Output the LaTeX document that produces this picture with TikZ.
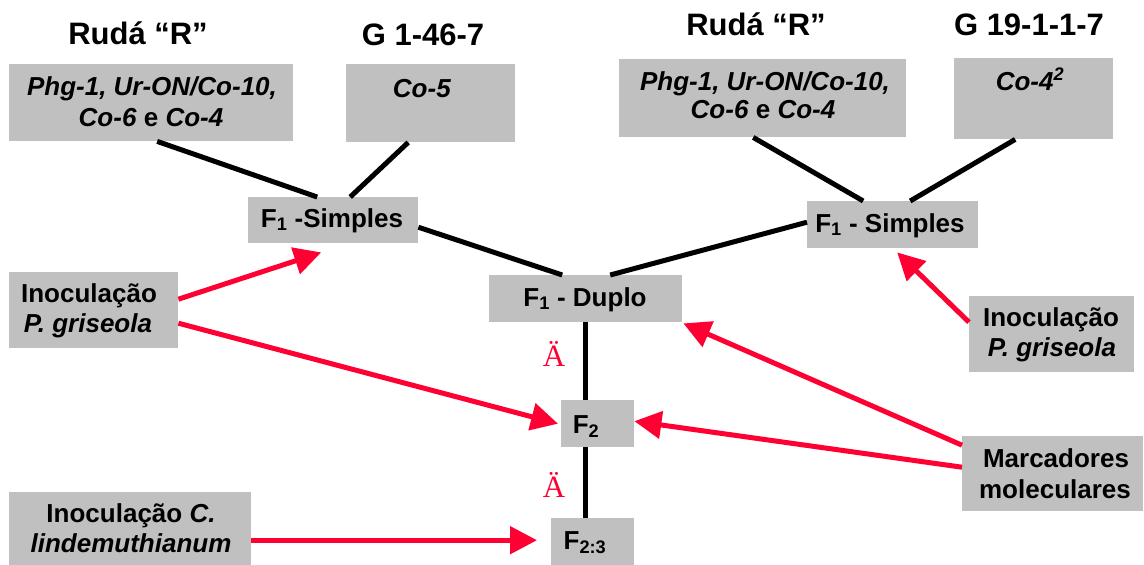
\documentclass[tikz,border=0pt]{standalone}
\usepackage{fontspec}
\setmainfont{Liberation Sans}
\newfontfamily\deltafont{Liberation Serif}
\usetikzlibrary{arrows.meta}
\definecolor{boxgray}{RGB}{192,192,192}
\definecolor{linkred}{RGB}{255,0,51}

\begin{document}
\begin{tikzpicture}[x=1pt,y=-1pt,
  gbox/.style={fill=boxgray, draw=none, inner sep=0pt, anchor=north west},
  lbl/.style={anchor=base, inner sep=0pt, font=\fontsize{26}{31}\selectfont\bfseries},
  ttl/.style={anchor=base, inner sep=0pt, font=\fontsize{31}{37}\selectfont\bfseries},
  tie/.style={line width=5pt, black},
  feed/.style={line width=5pt, linkred, -{Triangle[length=27pt,width=27pt]}},
  delta/.style={anchor=base, inner sep=0pt, text=linkred, font=\fontsize{31}{37}\selectfont\deltafont}]
\useasboundingbox (0,0) rectangle (1144,565);

% grey boxes
\node[gbox, minimum width=284pt, minimum height=77pt] (rudaL) at (9,64) {};
\node[gbox, minimum width=169pt, minimum height=78pt] (g146) at (346,64) {};
\node[gbox, minimum width=287pt, minimum height=78pt] (rudaR) at (619,59) {};
\node[gbox, minimum width=159pt, minimum height=81pt] (g19) at (954,58) {};
\node[gbox, minimum width=170pt, minimum height=46pt] (f1sL) at (248,197) {};
\node[gbox, minimum width=171pt, minimum height=47pt] (f1sR) at (807,201) {};
\node[gbox, minimum width=193pt, minimum height=47pt] (dup) at (489,275) {};
\node[gbox, minimum width=73pt, minimum height=47pt] (f2) at (561,400) {};
\node[gbox, minimum width=83pt, minimum height=47pt] (f23) at (551,518) {};
\node[gbox, minimum width=169pt, minimum height=76pt] (inocL) at (9,272) {};
\node[gbox, minimum width=165pt, minimum height=76pt] (inocR) at (969,296) {};
\node[gbox, minimum width=242pt, minimum height=73pt] (inocC) at (9,492) {};
\node[gbox, minimum width=181pt, minimum height=75pt] (marc) at (962,436) {};

% crossing lines
\draw[tie] ([xshift=6pt]rudaL.south) -- ([xshift=-16pt]f1sL.north);
\draw[tie] ([xshift=-22.5pt]g146.south) -- ([xshift=17pt]f1sL.north);
\draw[tie] ([yshift=-7pt]f1sL.east) -- ([xshift=-23.5pt]dup.north);
\draw[tie] ([yshift=2.5pt]f1sR.west) -- ([xshift=24.5pt]dup.north);
\draw[tie] ([xshift=-9.5pt]rudaR.south) -- ([xshift=-29.5pt]f1sR.north);
\draw[tie] ([xshift=-18.5pt]g19.south) -- ([xshift=17.5pt]f1sR.north);
\draw[tie] (dup.south) -- (dup.south |- f2.north);
\draw[tie] (dup.south |- f2.south) -- (dup.south |- f23.north);

% inoculations and markers
\draw[feed] ([yshift=11pt]inocL.east) -- ([xshift=-12pt,yshift=-9pt]f1sL.south);
\draw[feed] ([yshift=-13pt]inocL.east) -- ([xshift=-3pt]f2.west);
\draw[feed] ([yshift=-11.5pt]inocC.east) -- ([xshift=-14pt,yshift=1.5pt]f23.west);
\draw[feed] ([yshift=12pt]inocR.west) -- ([xshift=4.5pt,yshift=-4pt]f1sR.south);
\draw[feed] ([yshift=28.5pt]marc.west) -- ([xshift=1pt,yshift=-1pt]dup.south east);
\draw[feed] ([yshift=6.5pt]marc.west) -- ([yshift=2.5pt]f2.east);

% parent titles
\node[ttl] (tRudaL) at (138,44) {Rudá “R”};
\node[ttl] (tG146) at (423,45) {G 1-46-7};
\node[ttl] (tRudaR) at (756,35) {Rudá “R”};
\node[ttl] (tG19) at (1029,35) {G 19-1-1-7};

% box texts
\node[lbl] (xRudaL1) at (152,95) {\itshape Phg-1, Ur-ON/Co-10,};
\node[lbl] (xRudaL2) at (151,126) {\textit{Co-6} e \textit{Co-4}};
\node[lbl] (xG146) at (422,97) {\textit{Co-5}};
\node[lbl] (xRudaR1) at (765,90) {\itshape Phg-1, Ur-ON/Co-10,};
\node[lbl] (xRudaR2) at (763,118) {\textit{Co-6} e \textit{Co-4}};
\node[lbl] (xG19) at (1030,90) {\textit{Co-4\textsuperscript{2}}};
\node[lbl] (xf1sL) at (332,227) {F\textsubscript{1} -Simples};
\node[lbl] (xf1sR) at (890,232) {F\textsubscript{1} - Simples};
\node[lbl] (xdup) at (585,306) {F\textsubscript{1} - Duplo};
\node[lbl] (xf2) at (586,433) {F\textsubscript{2}};
\node[lbl] (xf23) at (585,549) {F\textsubscript{2:3}};
\node[lbl] (xinocL1) at (89,302) {Inoculação};
\node[lbl] (xinocL2) at (88,332) {\textit{P. griseola}};
\node[lbl] (xinocC1) at (131,522) {Inoculação \textit{C.}};
\node[lbl] (xinocC2) at (131,552) {\textit{lindemuthianum}};
\node[lbl] (xinocR1) at (1051,326) {Inoculação};
\node[lbl] (xinocR2) at (1052,356) {\textit{P. griseola}};
\node[lbl] (xmarc1) at (1056,467) {Marcadores};
\node[lbl] (xmarc2) at (1055,498) {moleculares};

% generation marks
\node[delta] (d1) at (554,366) {Ä};
\node[delta] (d2) at (554,497) {Ä};
\end{tikzpicture}
\end{document}
